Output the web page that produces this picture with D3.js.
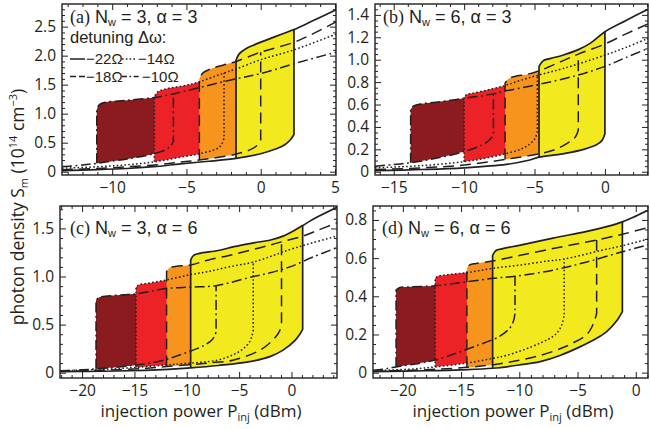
<!DOCTYPE html>
<html>
<head>
<meta charset="utf-8">
<script src="https://cdn.jsdelivr.net/npm/d3@7"></script>
<style>
	body { margin: 0; background: #fff; }
	svg text { font-family: 'Open Sans', sans-serif; fill: #231f20; }
	svg text.compact { font-family: 'Liberation Sans', Arial, sans-serif; }
</style>
</head>
<body>
<div id="chart"></div>
<script>
/***********************************************************************/
//Data
/***********************************************************************/
const panelIds = ['a', 'b', 'c', 'd']
const wellCounts = [3, 6, 3, 6]
const alphas = [3, 3, 6, 6]
const detunings = ['−22Ω', '−18Ω', '−14Ω', '−10Ω']

const aXDomain = [-13.38, 5.07]
const aYDomain = [-0.057, 2.89]
const aXTicks = [-10, -5, 0, 5]
const aYTicks = [0, 0.5, 1, 1.5, 2, 2.5]

const bXDomain = [-16.33, 3.06]
const bYDomain = [-0.029, 1.497]
const bXTicks = [-15, -10, -5, 0]
const bYTicks = [0, 0.2, 0.4, 0.6, 0.8, 1, 1.2, 1.4]

const cXDomain = [-22.11, 4.35]
const cYDomain = [-0.055, 1.733]
const cXTicks = [-20, -15, -10, -5, 0]
const cYTicks = [0, 0.5, 1, 1.5]

const dXDomain = [-22.56, 1.05]
const dYDomain = [-0.028, 0.873]
const dXTicks = [-20, -15, -10, -5, 0]
const dYTicks = [0, 0.2, 0.4, 0.6, 0.8]

const yMinorSteps = [0.1, 0.05, 0.1, 0.05]

// panel (a): upper branch starts at switch-down point, lower branch ends at switch-up point
const aSolidUp = [[-1.66,1.92],[-1.45,2.03],[-1.0,2.12],[-0.4,2.19],[0.5,2.28],[1.4,2.37],[2.24,2.45],[3.5,2.6],[5.07,2.79]]
const aSolidLo = [[-13.38,0.02],[-11,0.035],[-9,0.055],[-7,0.09],[-5.4,0.135],[-3.5,0.18],[-1.66,0.23],[0,0.31],[1,0.39],[1.6,0.46],[2.0,0.55],[2.24,0.64]]
const aDashUp = [[-4.13,1.6],[-3.9,1.7],[-3.4,1.77],[-2.5,1.84],[-1.66,1.9],[0,2.06],[2.24,2.23],[3.7,2.4],[5.07,2.58]]
const aDashLo = [[-13.38,0.035],[-11,0.055],[-9,0.085],[-7,0.12],[-5.4,0.165],[-4.13,0.2],[-1.7,0.3],[-0.7,0.38],[-0.25,0.45],[0,0.55]]
const aDotUp = [[-7.16,1.29],[-6.95,1.37],[-6.5,1.42],[-5,1.49],[-4.13,1.55],[-2.47,1.7],[-1.66,1.77],[0,1.93],[2.24,2.1],[5.07,2.37]]
const aDotLo = [[-13.38,0.06],[-11,0.085],[-9,0.12],[-7.16,0.17],[-5.4,0.25],[-4.1,0.31],[-3.0,0.39],[-2.65,0.46],[-2.47,0.58]]
const aDashDotUp = [[-11.04,1.07],[-10.85,1.16],[-10.4,1.2],[-9,1.23],[-7.16,1.28],[-5.88,1.34],[-4.13,1.45],[-1.66,1.6],[0,1.69],[2.24,1.86],[5.07,2.06]]
const aDashDotLo = [[-13.38,0.085],[-12,0.115],[-11.04,0.145],[-9,0.22],[-7.2,0.31],[-6.4,0.38],[-6.05,0.45],[-5.88,0.52]]

// panel (b)
const bSolidUp = [[-4.68,0.94],[-4.4,0.99],[-3.9,1.01],[-3,1.04],[-1.89,1.09],[-1,1.15],[0,1.25],[1.5,1.35],[3.06,1.45]]
const bSolidLo = [[-16.33,0.01],[-13,0.02],[-10,0.035],[-7,0.065],[-5.5,0.1],[-4.68,0.13],[-3,0.16],[-1.5,0.2],[-0.6,0.24],[-0.2,0.28],[0,0.34]]
const bDashUp = [[-7.09,0.79],[-6.85,0.83],[-6.4,0.85],[-5.5,0.87],[-4.68,0.9],[-3,0.99],[-1.89,1.05],[0,1.14],[1.5,1.23],[3.06,1.32]]
const bDashLo = [[-16.33,0.02],[-13,0.035],[-10,0.06],[-7.09,0.11],[-4.68,0.16],[-3.5,0.2],[-2.6,0.26],[-2.1,0.31],[-1.89,0.37]]
const bDotUp = [[-10.0,0.665],[-9.8,0.69],[-9.4,0.7],[-8,0.74],[-7.09,0.77],[-6,0.815],[-4.8,0.86],[-3,0.92],[0,1.04],[1.5,1.11],[3.06,1.19]]
const bDotLo = [[-16.33,0.035],[-13,0.055],[-10,0.09],[-8.5,0.12],[-7.09,0.16],[-6,0.2],[-5.3,0.25],[-4.95,0.3],[-4.8,0.36]]
const bDashDotUp = [[-13.8,0.56],[-13.55,0.59],[-13.1,0.605],[-12,0.62],[-10,0.655],[-7.92,0.695],[-7.09,0.72],[-4.68,0.78],[-2,0.86],[0,0.94],[1.5,1.02],[3.06,1.1]]
const bDashDotLo = [[-16.33,0.05],[-15,0.065],[-13.8,0.08],[-12,0.12],[-10,0.18],[-8.7,0.24],[-8.15,0.29],[-7.92,0.33]]

// panel (c)
const cSolidUp = [[-9.63,1.17],[-9.35,1.22],[-8.8,1.24],[-7,1.27],[-5.5,1.31],[-3.6,1.35],[-2,1.38],[-0.8,1.42],[0.3,1.48],[1.07,1.53],[2.5,1.62],[4.35,1.72]]
const cSolidLo = [[-22.11,0.01],[-18,0.015],[-14,0.025],[-11.8,0.035],[-9.63,0.05],[-7,0.075],[-4,0.115],[-2,0.17],[-0.8,0.235],[0.3,0.33],[0.8,0.4],[1.07,0.45]]
const cDashUp = [[-11.93,1.05],[-11.65,1.09],[-11.1,1.105],[-9.63,1.12],[-8,1.17],[-5.5,1.23],[-3,1.3],[-0.95,1.36],[1.07,1.42],[2.5,1.48],[4.35,1.56]]
const cDashLo = [[-22.11,0.015],[-18,0.025],[-14,0.045],[-11.93,0.065],[-9.4,0.085],[-7.5,0.105],[-5.6,0.13],[-3,0.235],[-1.6,0.36],[-1.15,0.43],[-0.95,0.5]]
const cDotUp = [[-14.85,0.89],[-14.55,0.915],[-14,0.925],[-11.93,0.965],[-9.63,1.02],[-8,1.05],[-6,1.1],[-3.65,1.15],[-0.14,1.28],[2,1.35],[4.35,1.42]]
const cDotLo = [[-22.11,0.02],[-18,0.035],[-14.85,0.055],[-12,0.08],[-10.3,0.095],[-7.1,0.13],[-5.5,0.19],[-4.6,0.25],[-4.0,0.32],[-3.75,0.39],[-3.65,0.44]]
const cDashDotUp = [[-18.67,0.755],[-18.35,0.785],[-17.8,0.795],[-16,0.81],[-14.85,0.82],[-11.93,0.875],[-9.63,0.89],[-7.2,0.905],[-4,0.99],[-2.37,1.03],[-0.14,1.1],[2,1.2],[4.35,1.3]]
const cDashDotLo = [[-22.11,0.02],[-20,0.03],[-18.67,0.04],[-16,0.065],[-14.85,0.08],[-13.5,0.1],[-11.9,0.14],[-10.3,0.2],[-8.6,0.27],[-7.6,0.34],[-7.3,0.39],[-7.2,0.43]]

// panel (d)
const dSolidUp = [[-12.29,0.615],[-12.0,0.64],[-11.4,0.65],[-9.9,0.668],[-7.1,0.705],[-4.2,0.74],[-2.5,0.765],[-1.15,0.79],[0,0.82],[1.05,0.85]]
const dSolidLo = [[-22.56,0.005],[-18,0.01],[-15,0.015],[-12.29,0.023],[-10,0.04],[-8.2,0.058],[-6.5,0.09],[-4.8,0.135],[-3.5,0.175],[-2.5,0.215],[-1.6,0.275],[-1.15,0.32]]
const dDashUp = [[-14.5,0.546],[-14.25,0.565],[-13.7,0.572],[-12.29,0.585],[-9.9,0.615],[-7.1,0.65],[-5,0.675],[-3.36,0.695],[-1.15,0.725],[1.05,0.76]]
const dDashLo = [[-22.56,0.008],[-18,0.015],[-14.5,0.028],[-12.2,0.042],[-10,0.065],[-8.2,0.09],[-6.5,0.125],[-5.4,0.155],[-4.2,0.2],[-3.65,0.255],[-3.36,0.31]]
const dDotUp = [[-17.22,0.494],[-16.95,0.506],[-16.3,0.512],[-14.5,0.524],[-12.29,0.546],[-9.9,0.564],[-7.5,0.585],[-6.15,0.595],[-3,0.64],[-1.15,0.665],[1.05,0.7]]
const dDotLo = [[-22.56,0.01],[-19,0.02],[-17.22,0.03],[-14.5,0.05],[-12.3,0.075],[-11.1,0.09],[-8.2,0.155],[-6.9,0.2],[-6.35,0.25],[-6.15,0.3]]
const dDashDotUp = [[-20.58,0.433],[-20.3,0.445],[-19.6,0.449],[-17.22,0.455],[-14.5,0.476],[-12.29,0.494],[-10.37,0.505],[-7.1,0.537],[-4.2,0.58],[-1.15,0.633],[1.05,0.67]]
const dDashDotLo = [[-22.56,0.012],[-21.5,0.02],[-20.58,0.03],[-18.5,0.05],[-17.22,0.066],[-15.5,0.1],[-13.9,0.136],[-11.7,0.19],[-10.8,0.235],[-10.5,0.27],[-10.37,0.31]]

/***********************************************************************/
//Styles
/***********************************************************************/
const ink = '#231f20'
const lineKinds = ['solid', 'dash', 'dot', 'dashdot']
const fillColors = { solid : '#f2ea1f', dash : '#f7941e', dot : '#ed2227', dashdot : '#8b1b1f' }
const dashArrays = { solid : null, dash : '11,6', dot : '1.6,2.3', dashdot : '10,3.5,1.8,3.5' }

/***********************************************************************/
//Panels
/***********************************************************************/
const panels = [
	{ xDomain : aXDomain, yDomain : aYDomain, xTicks : aXTicks, yTicks : aYTicks, frame : [62, 336, 4, 175], labelAt : [70, 22.5],
		curves : [[aSolidUp, aSolidLo], [aDashUp, aDashLo], [aDotUp, aDotLo], [aDashDotUp, aDashDotLo]] },
	{ xDomain : bXDomain, yDomain : bYDomain, xTicks : bXTicks, yTicks : bYTicks, frame : [375, 648, 4, 175], labelAt : [383, 22.5],
		curves : [[bSolidUp, bSolidLo], [bDashUp, bDashLo], [bDotUp, bDotLo], [bDashDotUp, bDashDotLo]] },
	{ xDomain : cXDomain, yDomain : cYDomain, xTicks : cXTicks, yTicks : cYTicks, frame : [60, 337, 206, 378], labelAt : [70, 233.5],
		curves : [[cSolidUp, cSolidLo], [cDashUp, cDashLo], [cDotUp, cDotLo], [cDashDotUp, cDashDotLo]] },
	{ xDomain : dXDomain, yDomain : dYDomain, xTicks : dXTicks, yTicks : dYTicks, frame : [373, 648, 206, 378], labelAt : [382, 233.5],
		curves : [[dSolidUp, dSolidLo], [dDashUp, dDashLo], [dDotUp, dDotLo], [dDashDotUp, dDashDotLo]] }
]

const svg = d3.select('#chart')
	.append('svg')
	.attr('width', 650)
	.attr('height', 429)

const yFormat = d => d === 0 ? '0' : d3.format('.1f')(d)
const xFormat = d => d3.format('d')(d)

function styleAxis(ag) {
	ag.select('.domain').remove()
	ag.attr('font-size', null).attr('font-family', null).style('color', ink)
	ag.selectAll('line').attr('stroke-width', 1)
	ag.selectAll('text').style('font-size', '15.5px')
}

panels.forEach((p, i) => {

	const [fx0, fx1, fy0, fy1] = p.frame
	const x = d3.scaleLinear().domain(p.xDomain).range([fx0, fx1])
	const y = d3.scaleLinear().domain(p.yDomain).range([fy1, fy0])

	const g = svg.append('g').attr('class', 'panel-' + panelIds[i])

	svg.append('clipPath')
		.attr('id', 'clip-' + i)
		.append('rect')
		.attr('x', fx0)
		.attr('y', fy0)
		.attr('width', fx1 - fx0)
		.attr('height', fy1 - fy0)

	const plot = g.append('g').attr('clip-path', 'url(#clip-' + i + ')')

	const line = d3.line()
		.x(d => x(d[0]))
		.y(d => y(d[1]))
		.curve(d3.curveCatmullRom)

	// bistable regions, widest detuning painted last
	for (let k = p.curves.length - 1; k >= 0; k--) {
		const [up, lo] = p.curves[k]
		const xL = up[0][0]
		const xR = lo[lo.length - 1][0]
		const top = up.filter(d => d[0] <= xR + 1e-9)
		const bottom = lo.filter(d => d[0] >= xL - 1e-9).reverse()
		plot.append('path')
			.attr('d', line(top) + line(bottom).replace(/^M/, 'L') + 'Z')
			.attr('fill', fillColors[lineKinds[k]])
	}

	// branches with their switching jumps
	p.curves.forEach(([up, lo], k) => {
		const xL = up[0][0]
		const xR = lo[lo.length - 1][0]
		const upAtR = up.find(d => Math.abs(d[0] - xR) < 1e-6)
		const loAtL = lo.find(d => Math.abs(d[0] - xL) < 1e-6)

		const lower = line(lo) + 'L' + x(xR) + ',' + y(upAtR[1])
		const upper = 'M' + x(xL) + ',' + y(loAtL[1]) + line(up).replace(/^M/, 'L')

		;[lower, upper].forEach(dStr => {
			plot.append('path')
				.attr('d', dStr)
				.attr('fill', 'none')
				.attr('stroke', ink)
				.attr('stroke-width', k === 0 ? 1.7 : 1.5)
				.attr('stroke-dasharray', dashArrays[lineKinds[k]])
				.attr('stroke-linejoin', 'round')
		})
	})

	/*******************************************************************/
	//Axes
	/*******************************************************************/
	const xMinor = d3.range(Math.ceil(p.xDomain[0]), p.xDomain[1] + 1e-9, 1).filter(v => p.xTicks.indexOf(v) < 0)
	const yStep = yMinorSteps[i]
	const yMinor = d3.range(0, p.yDomain[1], yStep)
		.map(v => +v.toFixed(3))
		.filter(v => !p.yTicks.some(t => Math.abs(t - v) < 1e-6))

	const xMajorIn = p.xTicks.filter(v => v > p.xDomain[0] && v < p.xDomain[1] - 0.05)

	g.append('g').attr('transform', 'translate(0,' + fy1 + ')')
		.call(d3.axisBottom(x).tickValues(p.xTicks).tickSize(-6).tickSizeOuter(0).tickPadding(7).tickFormat(xFormat))
		.call(styleAxis)
	g.append('g').attr('transform', 'translate(0,' + fy1 + ')')
		.call(d3.axisBottom(x).tickValues(xMinor).tickSize(-3).tickSizeOuter(0).tickFormat(''))
		.call(styleAxis)
	g.append('g').attr('transform', 'translate(0,' + fy0 + ')')
		.call(d3.axisTop(x).tickValues(xMajorIn).tickSize(-6).tickSizeOuter(0).tickFormat(''))
		.call(styleAxis)
	g.append('g').attr('transform', 'translate(0,' + fy0 + ')')
		.call(d3.axisTop(x).tickValues(xMinor).tickSize(-3).tickSizeOuter(0).tickFormat(''))
		.call(styleAxis)

	g.append('g').attr('transform', 'translate(' + fx0 + ',0)')
		.call(d3.axisLeft(y).tickValues(p.yTicks).tickSize(-6).tickSizeOuter(0).tickPadding(6).tickFormat(yFormat))
		.call(styleAxis)
	g.append('g').attr('transform', 'translate(' + fx0 + ',0)')
		.call(d3.axisLeft(y).tickValues(yMinor).tickSize(-3).tickSizeOuter(0).tickFormat(''))
		.call(styleAxis)
	g.append('g').attr('transform', 'translate(' + fx1 + ',0)')
		.call(d3.axisRight(y).tickValues(p.yTicks).tickSize(-6).tickSizeOuter(0).tickFormat(''))
		.call(styleAxis)
	g.append('g').attr('transform', 'translate(' + fx1 + ',0)')
		.call(d3.axisRight(y).tickValues(yMinor).tickSize(-3).tickSizeOuter(0).tickFormat(''))
		.call(styleAxis)

	g.append('rect')
		.attr('x', fx0)
		.attr('y', fy0)
		.attr('width', fx1 - fx0)
		.attr('height', fy1 - fy0)
		.attr('fill', 'none')
		.attr('stroke', ink)
		.attr('stroke-width', 1.4)

	/*******************************************************************/
	//Panel label
	/*******************************************************************/
	const lab = g.append('text')
		.attr('class', 'compact')
		.attr('x', p.labelAt[0])
		.attr('y', p.labelAt[1])
		.style('font-size', '18px')
	lab.append('tspan').style('font-family', "'Liberation Serif', serif").text('(' + panelIds[i] + ')')
	lab.append('tspan').text(' N')
	lab.append('tspan').attr('dy', 3).style('font-size', '11px').text('w')
	lab.append('tspan').attr('dy', -3).text(' = ' + wellCounts[i] + ', α = ' + alphas[i])
})

/***********************************************************************/
//Legend (panel a)
/***********************************************************************/
const legend = svg.append('g').attr('class', 'legend')

legend.append('text')
	.attr('class', 'compact')
	.attr('x', 70)
	.attr('y', 43)
	.style('font-size', '16.5px')
	.text('detuning Δω:')

const legendSlots = [[70, 59], [70, 76.5], [122, 59], [122, 76.5]]
const legendOrder = [0, 1, 2, 3]
const legendDash = { solid : null, dash : '6,3', dot : '1.6,2.2', dashdot : '5,2.5,1.6,2.5' }

legendOrder.forEach((k, j) => {
	const [lx, ly] = legendSlots[j]
	const len = k === 3 ? 19 : 15
	legend.append('line')
		.attr('x1', lx)
		.attr('x2', lx + len)
		.attr('y1', ly)
		.attr('y2', ly)
		.attr('stroke', ink)
		.attr('stroke-width', 1.5)
		.attr('stroke-dasharray', legendDash[lineKinds[k]])
	legend.append('text')
		.attr('class', 'compact')
		.attr('x', lx + len + 1)
		.attr('y', ly + 5)
		.style('font-size', '15px')
		.text(detunings[k])
})

/***********************************************************************/
//Axis titles
/***********************************************************************/
const yTitle = svg.append('text')
	.attr('transform', 'translate(24,207) rotate(-90)')
	.attr('text-anchor', 'middle')
	.style('font-size', '17.5px')
yTitle.append('tspan').text('photon density S')
yTitle.append('tspan').attr('dy', 4).style('font-size', '11px').text('m')
yTitle.append('tspan').attr('dy', -4).text(' (10')
yTitle.append('tspan').attr('dy', -7).style('font-size', '11px').text('14')
yTitle.append('tspan').attr('dy', 7).text(' cm')
yTitle.append('tspan').attr('dy', -7).style('font-size', '11px').text('−3')
yTitle.append('tspan').attr('dy', 7).text(')')

;[[201, 417], [513, 417]].forEach(([tx, ty]) => {
	const t = svg.append('text')
		.attr('x', tx)
		.attr('y', ty)
		.attr('text-anchor', 'middle')
		.style('font-size', '17px')
	t.append('tspan').text('injection power P')
	t.append('tspan').attr('dy', 4).style('font-size', '11px').text('inj')
	t.append('tspan').attr('dy', -4).text(' (dBm)')
})
</script>
</body>
</html>
